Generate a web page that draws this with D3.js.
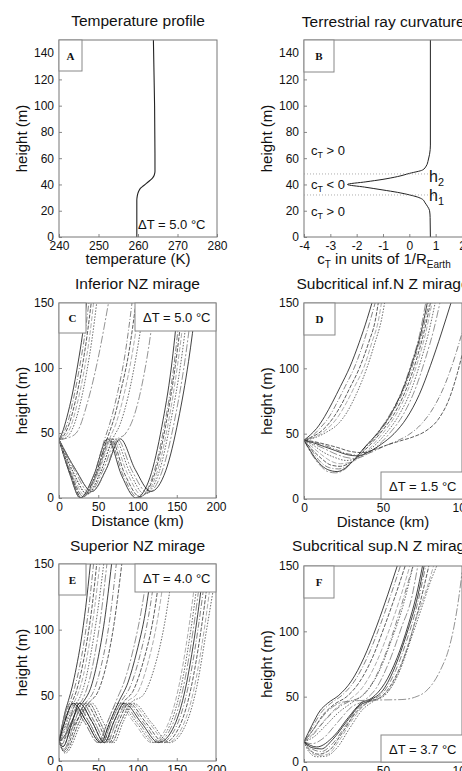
<!DOCTYPE html>
<html>
<head>
<meta charset="utf-8">
<script src="https://cdn.jsdelivr.net/npm/d3@7"></script>
<style>
  body { margin: 0; background: #fff; }
  svg { display: block; }
  text { font-family: "Liberation Sans", Arial, sans-serif; fill: #111; }
</style>
</head>
<body>
<svg id="fig" width="462" height="771"></svg>
<script>
// ---- data ----
// A: temperature profile
const tempHeight = [0, 28, 31, 33, 35, 37, 39, 41, 43, 45, 47, 50, 100, 150];
const tempK      = [259.7, 259.7, 259.8, 259.95, 260.2, 260.6, 261.4, 262.2, 263.0, 263.7, 264.1, 264.3, 264.2, 263.9];

// B: terrestrial ray curvature (units of 1/R_Earth)
const curvHeight = [0, 15, 20, 23, 26, 28.7, 30.5, 32, 34, 35.8, 38, 40, 42, 43.9, 46, 48.5, 51, 54, 58.6, 63, 70, 150];
const curvValue  = [0.8, 0.79, 0.77, 0.7, 0.6, 0.5, 0.3, 0.02, -0.45, -1.0, -1.7, -2.35, -1.65, -1.0, -0.45, 0.02, 0.5, 0.64, 0.72, 0.77, 0.8, 0.8];
const h1Height = 32, h2Height = 48;

// tick values
const tempTicks = [240, 250, 260, 270, 280];
const curvTicks = [-4, -3, -2, -1, 0, 1, 2];
const heightTicksFine = [0, 20, 40, 60, 80, 100, 120, 140];
const heightTicksRay = [0, 50, 100, 150];
const distTicksLong = [0, 50, 100, 150, 200];
const distTicksShort = [0, 50, 100];

// temperature jumps shown in each panel
const deltaT = { A: "5.0", C: "5.0", D: "1.5", E: "4.0", F: "3.7" };

// C: inferior NZ mirage, rays [distance km, height m], observer at 45 m
const raysC = [
  [[0,45],[4,50],[10,62],[17,80],[24,103],[30,126],[35,150]],
  [[0,45],[5,49],[12,60],[19,78],[26,100],[33,126],[38,150]],
  [[0,45],[6,48],[13,57],[21,75],[29,99],[36,126],[41,150]],
  [[0,45],[7,47],[15,55],[23,72],[32,98],[39,124],[44,150]],
  [[0,45],[8,46],[17,53],[26,70],[35,96],[42,122],[48,150]],
  [[0,45],[10,46],[22,50],[37,75],[50,108],[63,150]],
  [[0,45],[14,18],[27,0],[44,17],[62,45.5],[80,17],[98,0],[116,16],[131,55],[143,100],[152,150]],
  [[0,45],[15,18],[29,0],[46,17],[64,45.5],[82,17],[101,0],[119,16],[134,55],[146,100],[155,150]],
  [[0,45],[16,18],[31,1],[48,18],[66,45.5],[84,18],[103,1],[121,17],[136,56],[148,101],[158,150]],
  [[0,45],[17,19],[33,2],[50,19],[68,45.5],[87,19],[106,2],[124,18],[139,57],[151,102],[161,150]],
  [[0,45],[18,20],[36,3],[53,20],[71,45.5],[90,20],[109,3],[127,19],[142,58],[155,103],[165,150]],
  [[0,45],[20,21],[39,4],[56,21],[74,45.5],[93,21],[113,4],[131,20],[147,59],[160,104],[170,150]],
  [[0,45],[21,22],[42,5],[60,22],[78,45.5],[97,22],[117,5],[136,21],[152,60],[165,105],[175,150]],
  [[0,45],[14,18],[27,0],[44,17],[58,45],[66,60],[75,82],[84,110],[93,150]],
  [[0,45],[15,18],[29,0],[46,17],[61,45],[70,61],[79,83],[89,112],[98,150]],
  [[0,45],[16,18],[31,1],[48,18],[64,45],[73,58],[83,80],[93,110],[103,150]],
  [[0,45],[18,20],[36,3],[53,20],[68,45],[78,57],[88,78],[98,108],[109,150]],
  [[0,45],[21,22],[42,5],[60,22],[74,45],[84,49],[95,62],[105,85],[114,115],[122,150]]
];

// D: subcritical inferior mirage, observer at 45 m
const raysD = [
  [[0,45],[4,49],[8,54],[13,63],[18,74],[23,86],[29,101],[35,120],[40,138],[43,150]],
  [[0,45],[5,48],[10,54],[16,63],[21,74],[26,86],[32,101],[38,121],[42,137],[45,150]],
  [[0,45],[6,48],[12,53],[19,63],[24,73],[29,85],[35,100],[41,120],[45,136],[47,150]],
  [[0,45],[6,47],[13,52],[21,62],[27,74],[32,86],[38,101],[43,120],[47,136],[49,150]],
  [[0,45],[7,47],[14,51],[22,58],[27,66],[33,80],[40,101],[45,120],[49,137],[51,150]],
  [[0,45],[5,34],[10,26],[15,21],[20,20],[25,22],[31,29],[38,39],[46,50],[54,64],[62,83],[68,104],[73,125],[77,150]],
  [[0,45],[5,35],[10,27],[15,22.5],[21,21],[26,23.5],[31,29],[38,39],[47,51],[55,65],[63,85],[69,106],[74,127],[78,150]],
  [[0,45],[5,37],[10,29],[16,24],[22,23],[27,25],[31,29],[38,38],[47,50],[56,66],[64,86],[70,107],[75,128],[79,150]],
  [[0,45],[5,38],[11,31],[17,26],[23,25],[28,27],[32,30],[39,38],[48,50],[57,65],[65,85],[71,106],[76,128],[80,150]],
  [[0,45],[5,40],[11,34],[17,29],[23,27],[29,28],[33,30],[40,37],[49,49],[58,64],[66,84],[72,105],[77,127],[81,150]],
  [[0,45],[6,41],[12,36],[19,32],[27,29.5],[35,32],[42,38],[51,49],[60,64],[68,84],[74,106],[79,128],[83,150]],
  [[0,45],[6,42],[12,39],[19,35],[26,32],[32,31],[38,33],[45,39],[54,50],[63,65],[71,86],[77,108],[82,129],[86,150]],
  [[0,45],[6,43],[13,40],[20,37],[27,34],[34,33],[41,36],[49,42],[57,50],[65,62],[73,80],[80,102],[87,127],[93,150]],
  [[0,45],[6,43.5],[13,41],[20,38],[28,34.5],[36,33.5],[43,36],[50,40],[58,44],[66,49],[74,57],[82,70],[89,87],[95,107],[100,127]],
  [[0,45],[6,44],[13,42],[21,39.5],[29,36.5],[37,35.5],[45,38],[53,41.5],[61,44.5],[69,47.5],[77,52],[85,61],[92,77],[97,96],[100,110]]
];

// E: superior NZ mirage, observer at 15 m
const raysE = [
  [[0,15],[4,27],[8,38],[12,46],[17,57],[22,71],[28,91],[34,117],[40,150]],
  [[0,15],[5,27],[10,38],[14,45],[20,56],[26,71],[32,91],[38,117],[44,150]],
  [[0,15],[5,25],[11,37],[16,44],[22,53],[28,67],[35,89],[42,117],[48,150]],
  [[0,15],[6,24],[12,35],[18,43],[24,51],[31,65],[38,87],[45,115],[52,150]],
  [[0,15],[6,23],[13,34],[20,42],[27,49],[34,62],[41,83],[49,113],[57,150]],
  [[0,15],[7,22],[14,32],[22,41],[30,47],[37,58],[45,79],[53,109],[61,150]],
  [[0,15],[8,20],[16,30],[24,40],[32,46],[40,55],[49,76],[58,107],[67,150]],
  [[0,15],[8,19],[17,28],[26,38],[35,45],[44,53],[54,73],[64,105],[73,150]],
  [[0,15],[9,18],[19,27],[29,37],[39,45],[49,52],[59,70],[70,104],[80,150]],
  [[0,15],[6,32],[14,44],[32,30],[50,14],[62,30],[74,44],[96,29],[118,14],[138,27],[152,55],[165,100],[176,150]],
  [[0,15],[8,31],[18,44],[35,30],[53,14],[65,30],[77,44],[99,29],[121,14],[141,27],[155,55],[168,100],[179,150]],
  [[0,15],[4,13],[13,30],[22,44],[38,30],[55,14],[67,30],[80,44],[102,29],[124,14],[144,27],[158,55],[171,100],[182,150]],
  [[0,15],[5,11],[17,30],[26,44],[42,30],[58,14],[70,30],[83,44],[105,29],[127,14],[147,27],[161,55],[174,100],[185,150]],
  [[0,15],[6,9],[20,30],[30,44],[45,30],[61,14],[73,30],[86,44],[108,29],[130,14],[150,27],[164,55],[177,100],[188,150]],
  [[0,15],[6,8],[23,30],[34,44],[49,30],[64,14],[76,30],[89,44],[111,29],[134,14],[154,27],[168,55],[181,100],[192,150]],
  [[0,15],[7,7],[26,30],[38,44],[52,30],[67,14],[79,30],[92,44],[115,29],[138,14],[158,27],[172,55],[185,100],[196,150]],
  [[0,15],[8,6],[29,30],[42,44],[56,30],[70,14],[82,30],[95,44],[118,29],[141,14],[161,27],[175,55],[188,100],[200,143]],
  [[0,15],[6,32],[14,44],[32,30],[50,14],[62,30],[73,46],[84,62],[95,86],[105,115],[114,150]],
  [[0,15],[8,31],[18,44],[35,30],[53,14],[65,30],[76,45],[88,60],[99,83],[110,113],[119,150]],
  [[0,15],[4,13],[13,30],[22,44],[38,30],[55,14],[67,30],[79,45],[91,57],[103,80],[114,110],[124,150]],
  [[0,15],[5,11],[17,30],[26,44],[42,30],[58,14],[70,30],[82,44.5],[95,54],[108,77],[120,108],[130,150]],
  [[0,15],[6,9],[20,30],[30,44],[45,30],[61,14],[73,30],[86,44.5],[100,52],[113,74],[125,106],[136,150]],
  [[0,15],[7,7],[26,30],[38,44],[52,30],[67,14],[79,30],[92,44.5],[107,50],[121,70],[134,103],[146,150]]
];

// F: subcritical superior mirage, observer at 15.5 m
const raysF = [
  [[0,15.5],[5,28],[10,39],[15,45],[22,51],[30,62],[38,80],[46,104],[53,128],[59,150]],
  [[0,15.5],[5,26],[11,38],[17,45],[24,51],[32,62],[40,80],[48,104],[55,128],[61,150]],
  [[0,15.5],[6,25],[12,36],[19,44],[27,50],[35,61],[43,79],[51,104],[58,128],[64,150]],
  [[0,15.5],[6,22],[13,32],[21,42],[29,48],[37,57],[45,74],[53,98],[61,126],[67,150]],
  [[0,15.5],[6,19],[13,27],[22,38],[31,46],[39,53],[47,68],[55,92],[63,121],[69,150]],
  [[0,15.5],[5,14],[12,18],[21,30],[30,42],[38,47],[46,57],[54,77],[62,104],[68,125],[72,150]],
  [[0,15.5],[8,11.5],[19,20],[28,34],[36,45],[43,49],[51,60],[59,80],[66,105],[71,127],[75,150]],
  [[0,15.5],[5,10],[11,8],[18,14],[27,29],[35,42],[42,47],[50,53],[58,70],[65,93],[72,122],[77,150]],
  [[0,15.5],[4,9],[9,6],[16,9],[24,22],[33,38],[41,46],[49,50],[57,63],[65,86],[72,115],[79,150]],
  [[0,15.5],[4,8],[9,5],[15,6],[22,16],[31,33],[39,44.5],[47,48.5],[55,57],[63,79],[71,110],[78,134],[82,150]],
  [[0,15.5],[3,8],[8,4],[14,4.5],[21,11],[29,26],[37,40],[44,46.5],[52,52],[60,68],[68,95],[75,120],[80,138],[84,150]],
  [[0,15.5],[6,25],[12,35],[18,42],[25,46],[35,47],[50,47.5],[62,47.8],[70,49.5],[77,54],[82,61],[87,72],[91,84],[95,104],[98,126],[100,145]],
  [[0,15.5],[5,11],[11,10],[18,17],[27,31],[35,43],[42,47.5],[50,55],[58,74],[65,98],[72,127],[76,150]],
  [[0,15.5],[5,20],[12,30],[20,40],[28,46],[36,50],[44,62],[52,84],[60,113],[66,138],[69,150]]
];

// ---- drawing ----
const svg = d3.select("#fig");

// line looks for the ray bundles (cycled)
const rayStyles = [
  { stroke: "#111", dash: null },
  { stroke: "#666", dash: "6,2,1,2" },
  { stroke: "#333", dash: "4,1.5" },
  { stroke: "#999", dash: "5,2" },
  { stroke: "#444", dash: "1.5,1.5" },
  { stroke: "#777", dash: "8,2,2,2" }
];

function makePanel(cfg) {
  const x = d3.scaleLinear().domain(cfg.xDomain).range([cfg.left, cfg.left + cfg.width]);
  const y = d3.scaleLinear().domain([0, 150]).range([cfg.top + cfg.height, cfg.top]);
  const g = svg.append("g");

  const clipId = "clip-" + cfg.id;
  g.append("clipPath").attr("id", clipId).append("rect")
    .attr("x", cfg.left).attr("y", cfg.top)
    .attr("width", cfg.width).attr("height", cfg.height);
  const plot = g.append("g").attr("clip-path", "url(#" + clipId + ")");
  const over = g.append("g");

  const xa = over.append("g")
    .attr("transform", "translate(0," + (cfg.top + cfg.height) + ")")
    .call(d3.axisBottom(x).tickValues(cfg.xTicks).tickFormat(d => String(d))
      .tickSizeInner(-3).tickSizeOuter(0).tickPadding(4.5));
  const ya = over.append("g")
    .attr("transform", "translate(" + cfg.left + ",0)")
    .call(d3.axisLeft(y).tickValues(cfg.yTicks).tickFormat(d => String(d))
      .tickSizeInner(-3).tickSizeOuter(0).tickPadding(5));
  [xa, ya].forEach(a => {
    a.select(".domain").remove();
    a.attr("font-family", null).attr("font-size", 12);
    a.selectAll("line").attr("stroke", "#888");
    a.selectAll("text").attr("fill", "#222");
  });

  over.append("rect")
    .attr("x", cfg.left).attr("y", cfg.top)
    .attr("width", cfg.width).attr("height", cfg.height)
    .attr("fill", "none").attr("stroke", "#777").attr("stroke-width", 1);

  // panel letter box
  over.append("rect")
    .attr("x", cfg.left).attr("y", cfg.top)
    .attr("width", cfg.letterW).attr("height", cfg.letterH)
    .attr("fill", "#fff").attr("stroke", "#888");
  over.append("text")
    .attr("x", cfg.left + cfg.letterW / 2).attr("y", cfg.top + cfg.letterH / 2 + 4)
    .attr("text-anchor", "middle")
    .style("font-family", '"Liberation Serif", "Times New Roman", serif')
    .attr("font-weight", "bold").attr("font-size", 11)
    .text(cfg.id);

  g.append("text")
    .attr("x", cfg.left + cfg.width / 2).attr("y", cfg.titleY)
    .attr("text-anchor", "middle").attr("font-size", 15.5)
    .text(cfg.title);

  g.append("text")
    .attr("transform", "translate(" + (cfg.left - 32) + "," + (cfg.top + cfg.height / 2) + ") rotate(-90)")
    .attr("text-anchor", "middle").attr("font-size", 15)
    .text("height (m)");

  return { x, y, g, plot, over };
}

function drawRays(p, rays) {
  const line = d3.line().x(d => p.x(d[0])).y(d => p.y(d[1])).curve(d3.curveMonotoneX);
  p.plot.selectAll("path.ray").data(rays).join("path")
    .attr("class", "ray")
    .attr("d", line)
    .attr("fill", "none")
    .attr("stroke", (d, i) => rayStyles[i % rayStyles.length].stroke)
    .attr("stroke-dasharray", (d, i) => rayStyles[i % rayStyles.length].dash)
    .attr("stroke-width", 0.8);
}

function deltaBox(p, label, bx, by, bw, bh, withBox) {
  if (withBox) {
    p.over.append("rect").attr("x", bx).attr("y", by).attr("width", bw).attr("height", bh)
      .attr("fill", "#fff").attr("stroke", "#888");
  }
  p.over.append("text")
    .attr("x", bx + (withBox ? 8 : 0)).attr("y", by + bh / 2 + 5)
    .attr("font-size", 13)
    .text("\u0394T = " + label + " \u00B0C");
}

function distanceLabel(p, yBase) {
  p.g.append("text")
    .attr("x", (p.x.range()[0] + p.x.range()[1]) / 2).attr("y", yBase)
    .attr("text-anchor", "middle").attr("font-size", 15)
    .text("Distance (km)");
}

// --- A: temperature profile
const pA = makePanel({ id: "A", left: 59, top: 40, width: 158, height: 197,
  xDomain: [240, 280], xTicks: tempTicks, yTicks: heightTicksFine,
  letterW: 23, letterH: 31, title: "Temperature profile", titleY: 26 });
pA.plot.append("path")
  .datum(tempHeight.map((h, i) => [tempK[i], h]))
  .attr("d", d3.line().x(d => pA.x(d[0])).y(d => pA.y(d[1])).curve(d3.curveMonotoneY))
  .attr("fill", "none").attr("stroke", "#222").attr("stroke-width", 1.1);
pA.g.append("text").attr("x", 138).attr("y", 264).attr("text-anchor", "middle")
  .attr("font-size", 15).text("temperature (K)");
deltaBox(pA, deltaT.A, 138, 217, 70, 14, false);

// --- B: terrestrial ray curvature
const pB = makePanel({ id: "B", left: 304, top: 40, width: 158.5, height: 197,
  xDomain: [-4, 2.02], xTicks: curvTicks, yTicks: heightTicksFine,
  letterW: 30, letterH: 32, title: "Terrestrial ray curvature", titleY: 27 });
[h1Height, h2Height].forEach(h => {
  pB.over.append("line")
    .attr("x1", pB.x(-4)).attr("x2", pB.x(1.15))
    .attr("y1", pB.y(h)).attr("y2", pB.y(h))
    .attr("stroke", "#999").attr("stroke-width", 0.8).attr("stroke-dasharray", "1,2");
});
pB.plot.append("path")
  .datum(curvHeight.map((h, i) => [curvValue[i], h]))
  .attr("d", d3.line().x(d => pB.x(d[0])).y(d => pB.y(d[1])).curve(d3.curveMonotoneY))
  .attr("fill", "none").attr("stroke", "#222").attr("stroke-width", 1);

function subText(sel, x, y, size, main, sub, rest) {
  const t = sel.append("text").attr("x", x).attr("y", y).attr("font-size", size);
  t.append("tspan").text(main);
  t.append("tspan").attr("dy", size * 0.25).attr("font-size", size * 0.68).text(sub);
  if (rest) t.append("tspan").attr("dy", -size * 0.25).text(rest);
  return t;
}
subText(pB.over, 311, 155, 13, "c", "T", " > 0");
subText(pB.over, 311, 189, 13, "c", "T", " < 0");
subText(pB.over, 311, 216, 13, "c", "T", " > 0");
subText(pB.over, 429, 182, 16, "h", "2", "");
subText(pB.over, 429, 201, 16, "h", "1", "");
(function () {
  const t = pB.g.append("text").attr("x", 384).attr("y", 264)
    .attr("text-anchor", "middle").attr("font-size", 15);
  t.append("tspan").text("c");
  t.append("tspan").attr("dy", 3.5).attr("font-size", 10).text("T");
  t.append("tspan").attr("dy", -3.5).text(" in units of 1/R");
  t.append("tspan").attr("dy", 3.5).attr("font-size", 10).text("Earth");
})();

// --- C: inferior NZ mirage
const pC = makePanel({ id: "C", left: 59, top: 303, width: 157, height: 195,
  xDomain: [0, 200], xTicks: distTicksLong, yTicks: heightTicksRay,
  letterW: 27, letterH: 30, title: "Inferior NZ mirage", titleY: 289 });
drawRays(pC, raysC);
deltaBox(pC, deltaT.C, 135, 303, 81, 28, true);
distanceLabel(pC, 526);

// --- D: subcritical inferior mirage
const pD = makePanel({ id: "D", left: 304, top: 303, width: 158, height: 196,
  xDomain: [0, 100], xTicks: distTicksShort, yTicks: heightTicksRay,
  letterW: 31, letterH: 32, title: "Subcritical inf.N Z mirage", titleY: 289 });
drawRays(pD, raysD);
deltaBox(pD, deltaT.D, 381, 472, 90, 27, true);
distanceLabel(pD, 527);

// --- E: superior NZ mirage
const pE = makePanel({ id: "E", left: 59, top: 564, width: 157, height: 197,
  xDomain: [0, 200], xTicks: distTicksLong, yTicks: heightTicksRay,
  letterW: 27, letterH: 31, title: "Superior NZ mirage", titleY: 551 });
drawRays(pE, raysE);
deltaBox(pE, deltaT.E, 135, 564, 81, 28, true);

// --- F: subcritical superior mirage
const pF = makePanel({ id: "F", left: 304, top: 566, width: 158, height: 196,
  xDomain: [0, 100], xTicks: distTicksShort, yTicks: heightTicksRay,
  letterW: 30, letterH: 32, title: "Subcritical sup.N Z mirage", titleY: 551 });
drawRays(pF, raysF);
deltaBox(pF, deltaT.F, 381, 735, 90, 27, true);
</script>
</body>
</html>
